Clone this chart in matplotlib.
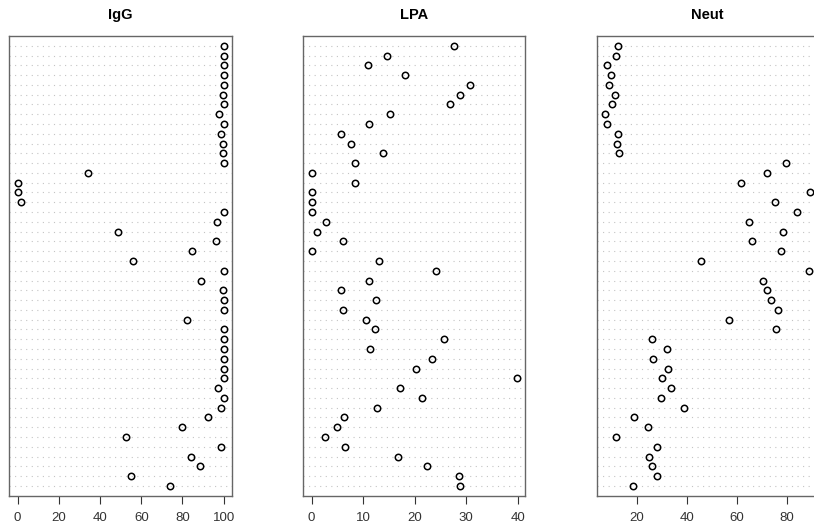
import matplotlib
matplotlib.use("Agg")
import matplotlib.pyplot as plt
import numpy as np

plt.rcParams["font.family"] = ["Liberation Sans", "DejaVu Sans"]

# values listed top row first
igg = [100, 100, 100, 100, 100, 99.5, 100, 97.7, 100, 98.7, 99.5, 99.5, 100,
       34, 0, 0, 1.5, 100, 96.7, 48.5, 96.1, 84.6, 56, 100, 89, 99.5, 100, 100,
       82.1, 100, 100, 100, 100, 100, 100, 97, 100, 98.5, 92.2, 80, 52.5, 98.5,
       84.1, 88.3, 54.8, 74.1]
lpa = [27.7, 14.7, 10.9, 18.2, 30.8, 28.7, 26.8, 15.3, 11.2, 5.7, 7.6, 13.8,
       8.5, 0, 8.4, 0, 0, 0, 2.9, 1.0, 6.1, 0, 13.0, 24.1, 11.2, 5.7, 12.5, 6.2,
       10.5, 12.4, 25.7, 11.4, 23.3, 20.3, 39.8, 17.2, 21.4, 12.6, 6.3, 5.0, 2.7,
       6.4, 16.7, 22.3, 28.6, 28.8]
neut = [12.4, 11.6, 8.1, 9.6, 8.7, 11.2, 10.1, 7.2, 8.1, 12.5, 12.1, 12.7,
        79.6, 72.3, 61.6, 89.3, 75.3, 84.1, 64.8, 78.5, 66, 77.9, 45.8, 88.9,
        70.5, 72.1, 73.7, 76.6, 56.9, 75.7, 26, 32, 26.5, 32.4, 30, 33.5, 29.5,
        38.9, 19, 24.4, 11.6, 28, 24.9, 26, 28, 18.5]

panels = [("IgG", igg, [0, 20, 40, 60, 80, 100]),
          ("LPA", lpa, [0, 10, 20, 30, 40]),
          ("Neut", neut, [20, 40, 60, 80])]
lefts = [0.0114, 0.3726, 0.7330]
widths = [0.2736, 0.2724, 0.2719]

fig = plt.figure(figsize=(8.14, 5.28), dpi=100)
n = len(igg)
ypos = np.arange(n, 0, -1)

for (name, vals, ticks), l, w in zip(panels, lefts, widths):
    ax = fig.add_axes([l, 0.0612, w, 0.8706])
    lo, hi = min(vals), max(vals)
    pad = (hi - lo) * 0.04
    ax.set_xlim(lo - pad, hi + pad)
    ax.set_ylim(0, n + 1)
    ax.hlines(ypos, lo - pad, hi + pad, colors="#c4c4c4", linestyles=(0, (1, 4)), lw=0.8)
    ax.plot(vals, ypos, "o", mfc="none", mec="black", ms=4.6, mew=1.1)
    ax.set_yticks([])
    ax.set_xticks(ticks)
    ax.tick_params(axis="x", length=5.5, width=0.8, color="#333333",
                   labelsize=9.5, labelcolor="#333333", pad=6.5)
    for s in ax.spines.values():
        s.set_color("#666666")
        s.set_linewidth(1.0)
    ax.set_title(name, fontsize=10.5, fontweight="bold", pad=12)

fig.savefig("out.png", dpi=100)
